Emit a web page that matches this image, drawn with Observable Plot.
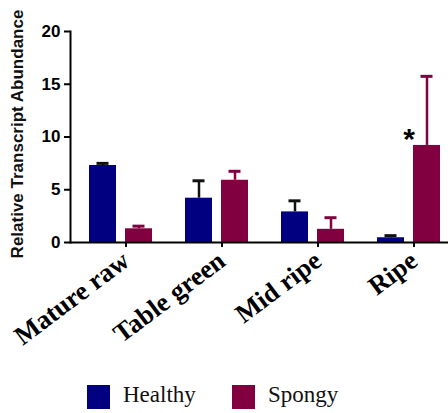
<!DOCTYPE html>
<html>
<head>
<meta charset="utf-8">
<script src="https://cdn.jsdelivr.net/npm/d3@7"></script>
<script src="https://cdn.jsdelivr.net/npm/@observablehq/plot@0.6"></script>
<style>
  html, body { margin: 0; padding: 0; background: #fff; }
  #wrap { width: 448px; height: 413px; position: relative; overflow: hidden; }
  #legend { position: absolute; left: 0; top: 372px; width: 448px; height: 41px; font-family: "Times New Roman", "Liberation Serif", serif; font-size: 23px; color: #111; }
  .sw { position: absolute; top: 13px; width: 23px; height: 24px; }
  .lb { position: absolute; top: 9px; line-height: 28px; }
</style>
</head>
<body>
<div id="wrap">
  <div id="chart"></div>
  <div id="legend"></div>
</div>
<script>
const categories = ["Mature raw", "Table green", "Mid ripe", "Ripe"];
const series = ["Healthy", "Spongy"];
const healthy = [7.3, 4.2, 2.9, 0.45];
const healthyErr = [0.2, 1.65, 1.05, 0.2];
const spongy = [1.3, 5.9, 1.25, 9.2];
const spongyErr = [0.25, 0.85, 1.1, 6.55];
const yTicks = [0, 5, 10, 15, 20];
const starCategory = "Ripe";
const starValue = 10.4;

const colors = {Healthy: "#000080", Spongy: "#800040"};

const hData = categories.map((c, i) => ({cat: c, v: healthy[i], top: healthy[i] + healthyErr[i]}));
const sData = categories.map((c, i) => ({cat: c, v: spongy[i], top: spongy[i] + spongyErr[i]}));

const chart = Plot.plot({
  width: 448,
  height: 372,
  marginLeft: 70,
  marginRight: 0,
  marginTop: 31,
  marginBottom: 130,
  style: {background: "white", overflow: "visible"},
  x: {domain: categories, paddingInner: 0.3485, paddingOuter: 0.124, align: 0.71, label: null},
  y: {domain: [0, 20], label: null},
  marks: [
    Plot.barY(hData, {x: "cat", y: "v", fill: colors.Healthy, insetRight: 36}),
    Plot.barY(sData, {x: "cat", y: "v", fill: colors.Spongy, insetLeft: 36}),
    Plot.ruleX(hData, {x: "cat", y1: "v", y2: "top", dx: -18, stroke: "#111", strokeWidth: 2.5}),
    Plot.ruleX(sData, {x: "cat", y1: "v", y2: "top", dx: 18, stroke: colors.Spongy, strokeWidth: 2.5}),
    Plot.tickY(hData, {x: "cat", y: "top", insetLeft: 7.5, insetRight: 43.5, stroke: "#111", strokeWidth: 3}),
    Plot.tickY(sData, {x: "cat", y: "top", insetLeft: 43.5, insetRight: 7.5, stroke: colors.Spongy, strokeWidth: 3}),
    Plot.text([{cat: starCategory, v: starValue}], {x: "cat", y: "v", text: () => "*", dx: 0, dy: 7, fontSize: 30, fontWeight: "bold", fontFamily: "Liberation Sans, Arial, sans-serif", fill: "#000"}),
    Plot.ruleY([0], {stroke: "#000", strokeWidth: 2}),
    Plot.frame({anchor: "left", stroke: "#000", strokeWidth: 2}),
    Plot.axisY({ticks: yTicks, tickSize: 6, tickPadding: 4, fontSize: 17, fontWeight: "bold", fontFamily: "Liberation Sans, Arial, sans-serif", label: null, strokeWidth: 2}),
    Plot.axisX({tickSize: 5, tickRotate: -37, tickPadding: 10, dx: 5, fontSize: 26.5, fontWeight: "bold", fontFamily: "Times New Roman, Liberation Serif, serif", label: null, strokeWidth: 2}),
    Plot.text(["Relative Transcript Abundance"], {frameAnchor: "left", textAnchor: "middle", dx: -53, dy: -3, rotate: -90, text: d => d, fontSize: 17, fontWeight: "bold", fontFamily: "Liberation Sans, Arial, sans-serif", fill: "#111"})
  ]
});
document.getElementById("chart").appendChild(chart);

const legend = document.getElementById("legend");
const legendX = {Healthy: [87, 123], Spongy: [232, 268]};
series.forEach(s => {
  const sw = document.createElement("div");
  sw.className = "sw";
  sw.style.left = legendX[s][0] + "px";
  sw.style.background = colors[s];
  legend.appendChild(sw);
  const lb = document.createElement("div");
  lb.className = "lb";
  lb.style.left = legendX[s][1] + "px";
  lb.textContent = s;
  legend.appendChild(lb);
});
</script>
</body>
</html>
